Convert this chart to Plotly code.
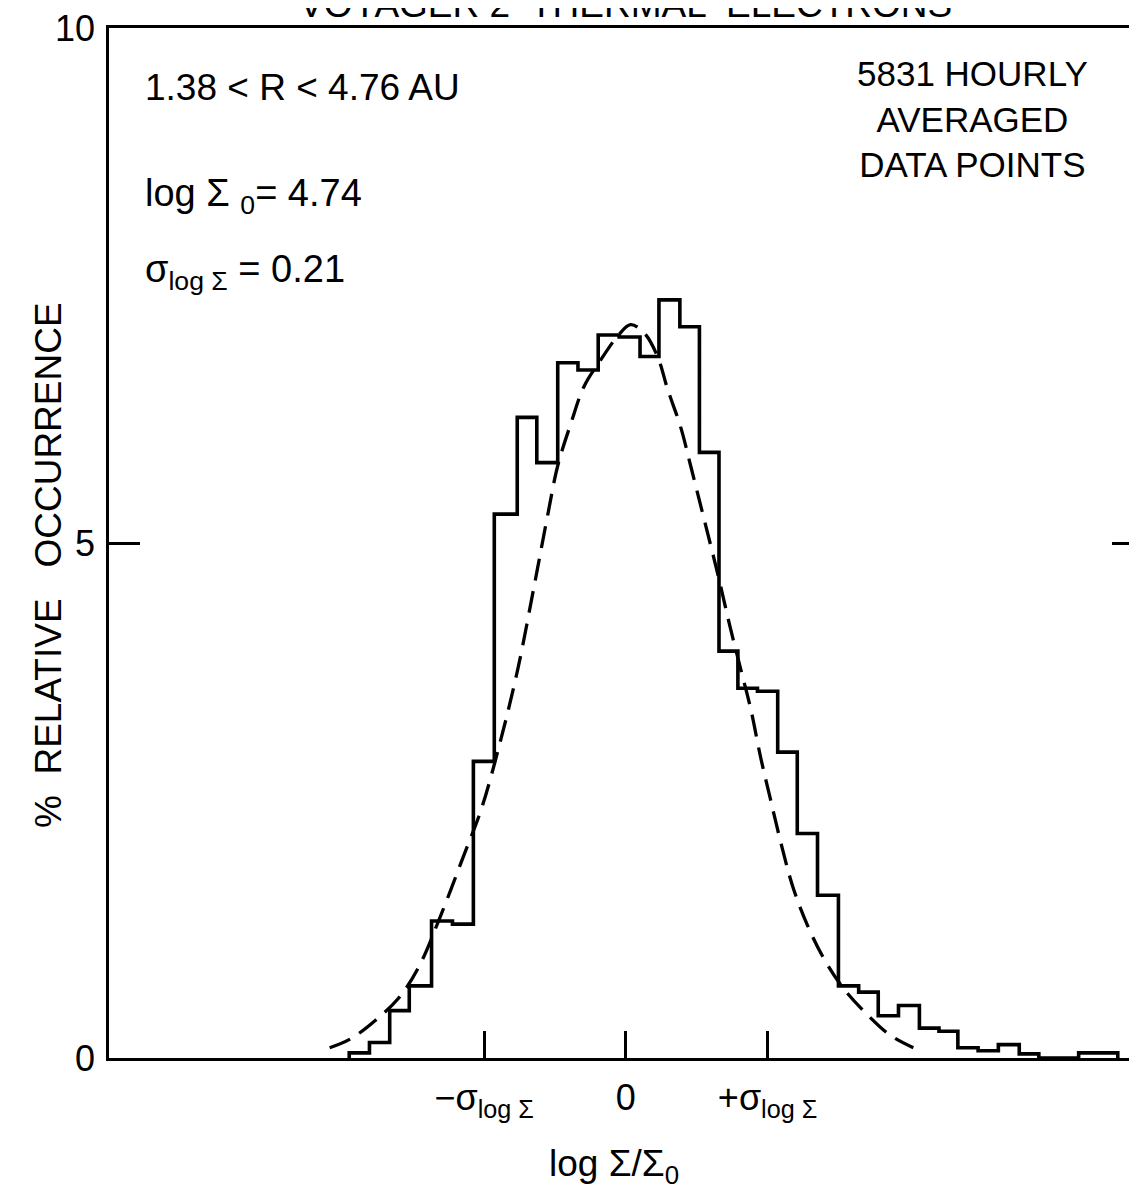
import plotly.graph_objects as go

# ---- data ----
# histogram bin edges in log(Sigma/Sigma0) and % relative occurrence per bin
bin_edges = [-0.410, -0.380, -0.350, -0.321, -0.288, -0.257, -0.226, -0.195,
             -0.161, -0.132, -0.101, -0.071, -0.041, -0.010, 0.021, 0.049,
             0.080, 0.109, 0.138, 0.166, 0.195, 0.225, 0.254, 0.284, 0.315,
             0.345, 0.374, 0.404, 0.435, 0.464, 0.492, 0.522, 0.552, 0.583,
             0.612, 0.642, 0.671, 0.701, 0.729]
pct = [0.05, 0.15, 0.46, 0.70, 1.33, 1.30, 2.88, 5.28, 6.22, 5.78, 6.75, 6.68,
       7.02, 7.00, 6.81, 7.36, 7.10, 5.88, 3.95, 3.59, 3.56, 2.97, 2.18, 1.58,
       0.70, 0.64, 0.41, 0.51, 0.29, 0.26, 0.10, 0.07, 0.13, 0.04, 0.0, 0.0,
       0.05, 0.05]

# dashed fitted curve
fit_x = [-0.439, -0.407, -0.367, -0.337, -0.308, -0.274, -0.240, -0.214,
         -0.185, -0.160, -0.136, -0.115, -0.101, -0.081, -0.062, -0.037,
         -0.012, 0.007, 0.027, 0.047, 0.062, 0.081, 0.096, 0.111, 0.126,
         0.138, 0.155, 0.170, 0.185, 0.200, 0.214, 0.232, 0.248, 0.269,
         0.293, 0.322, 0.358, 0.392, 0.426]
fit_y = [0.10, 0.19, 0.39, 0.58, 0.87, 1.39, 1.97, 2.42, 3.10, 3.78, 4.58,
         5.30, 5.75, 6.17, 6.52, 6.78, 7.01, 7.12, 7.04, 6.81, 6.49, 6.13,
         5.75, 5.36, 4.97, 4.65, 4.17, 3.78, 3.39, 2.91, 2.52, 2.03, 1.65,
         1.29, 0.97, 0.68, 0.42, 0.22, 0.10]

sigma = 0.21
x_tickvals = [-sigma, 0, sigma]
x_ticktext = ["\u2212\u03c3<sub>log \u03a3</sub>", "0", "+\u03c3<sub>log \u03a3</sub>"]
y_tickvals = [0, 5, 10]

FONT = "Liberation Sans, Arial, sans-serif"

# step outline of the histogram
hx = [bin_edges[0]] + bin_edges[:-1] + [bin_edges[-1], bin_edges[-1]]
hy = [0] + pct + [pct[-1], 0]

fig = go.Figure()
fig.add_trace(go.Scatter(x=fit_x, y=fit_y, mode="lines", line_shape="spline",
                         line=dict(color="black", width=3.3, dash="22px,11px"),
                         hoverinfo="skip", showlegend=False))
fig.add_trace(go.Scatter(x=hx, y=hy, mode="lines", line_shape="hv",
                         line=dict(color="black", width=3.6),
                         hoverinfo="skip", showlegend=False))
# invisible trace on right axis so it renders
fig.add_trace(go.Scatter(x=[0], y=[0], yaxis="y2", mode="markers",
                         marker=dict(opacity=0), hoverinfo="skip", showlegend=False))

W, H = 1137, 1189
OFF = 8  # page body margin in the browser
# target plot box in window pixels: x 107..1136, y 25..1058
L = 107 - OFF + 2
R = W - (1136 - OFF)
T = 25 - OFF + 3
B = H - (1058 - OFF)
pw, ph = W - L - R, H - T - B


def px2paper_x(px):
    return (px - OFF - L) / pw


def px2paper_y(py):
    return (H - B - (py - OFF)) / ph


fig.update_layout(
    width=W, height=H,
    margin=dict(l=L, r=R, t=T, b=B, autoexpand=False),
    plot_bgcolor="white", paper_bgcolor="white",
    font=dict(family=FONT, color="black", size=36),
    xaxis=dict(range=[-0.766, 0.756], tickvals=x_tickvals, ticktext=x_ticktext,
               ticks="inside", ticklen=27, tickwidth=2.5, tickcolor="black",
               showline=True, linecolor="black", linewidth=2.5, mirror=True,
               showgrid=False, zeroline=False, tickfont=dict(size=36),
               ticklabelstandoff=6, automargin=False),
    yaxis=dict(range=[0, 10], tickvals=y_tickvals, ticks="inside", ticklen=31,
               tickwidth=2.5, tickcolor="black", showline=True, linecolor="black",
               linewidth=2.5, showgrid=False, zeroline=False,
               tickfont=dict(size=36), ticklabelstandoff=4,
               ticklabeloverflow="allow", automargin=False),
    yaxis2=dict(range=[0, 10], overlaying="y", side="right", tickvals=[5],
                ticks="inside", ticklen=24, tickwidth=2.5, tickcolor="black",
                showticklabels=False, showline=True, linecolor="#d0d0d0",
                linewidth=1, showgrid=False, zeroline=False, automargin=False),
)

ann = [
    dict(text="VOYAGER 2  THERMAL  ELECTRONS", x=px2paper_x(625), y=px2paper_y(4),
         font=dict(size=37)),
    dict(text="1.38 < R < 4.76 AU", x=px2paper_x(143), y=px2paper_y(87),
         xanchor="left", font=dict(size=37)),
    dict(text="log \u03a3 <sub>0</sub>= 4.74", x=px2paper_x(143), y=px2paper_y(196),
         xanchor="left", font=dict(size=38)),
    dict(text="\u03c3<sub>log \u03a3</sub> = 0.21", x=px2paper_x(143), y=px2paper_y(272),
         xanchor="left", font=dict(size=38)),
    dict(text="5831 HOURLY<br>AVERAGED<br>DATA POINTS", x=px2paper_x(972),
         y=px2paper_y(119), align="center", font=dict(size=35)),
    dict(text="%  RELATIVE   OCCURRENCE", x=px2paper_x(48), y=px2paper_y(565),
         textangle=-90, font=dict(size=37)),
    dict(text="log \u03a3/\u03a3<sub>0</sub>", x=px2paper_x(614), y=px2paper_y(1166),
         font=dict(size=37)),
]
for a in ann:
    a.setdefault("xanchor", "center")
    a.update(xref="paper", yref="paper", showarrow=False, yanchor="middle")
fig.update_layout(annotations=ann)

fig.write_html("out.html")
